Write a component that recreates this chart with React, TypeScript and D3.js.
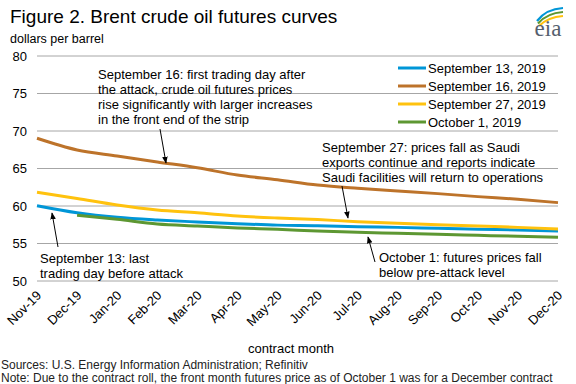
import React from "react";
import * as d3 from "d3";

const months = ["Nov-19","Dec-19","Jan-20","Feb-20","Mar-20","Apr-20","May-20","Jun-20","Jul-20","Aug-20","Sep-20","Oct-20","Nov-20","Dec-20"];
const yTicks = [50, 55, 60, 65, 70, 75, 80];

const sep13 = [60.04, 59.1, 58.49, 58.13, 57.87, 57.64, 57.45, 57.38, 57.24, 57.15, 57.02, 56.9, 56.8, 56.67];
const sep16 = [69.03, 67.47, 66.67, 65.87, 65.1, 64.13, 63.5, 62.8, 62.36, 62.0, 61.65, 61.25, 60.9, 60.45];
const sep27 = [61.83, 61.0, 60.13, 59.47, 59.1, 58.67, 58.4, 58.2, 57.9, 57.7, 57.5, 57.33, 57.15, 56.93];
const oct1 = [null, 58.76, 58.22, 57.6, 57.33, 57.07, 56.89, 56.67, 56.49, 56.36, 56.22, 56.09, 55.96, 55.82];

const seriesNames = ["September 13, 2019", "September 16, 2019", "September 27, 2019", "October 1, 2019"];
const seriesColors = ["#0096d7", "#bd732a", "#ffc20e", "#5d9732"];
const seriesValues = [sep13, sep16, sep27, oct1];

const FONT = "'Liberation Sans', Arial, sans-serif";

export default function App() {
  const W = 576, H = 384;
  const x = d3.scalePoint<string>().domain(months).range([37, 558]);
  const y = d3.scaleLinear().domain([50, 80]).range([281, 56]);
  const line = d3
    .line<number | null>()
    .defined((d) => d !== null)
    .x((_, i) => x(months[i]) as number)
    .y((d) => y(d as number))
    .curve(d3.curveMonotoneX);

  const annotations = [
    { x: 98, y: 74, lines: ["September 16: first trading day after", "the attack, crude oil futures prices", "rise significantly with larger increases", "in the front end of the strip"], a: [160, 129, 166, 163] },
    { x: 322, y: 147, lines: ["September 27: prices fall as Saudi", "exports continue and reports indicate", "Saudi facilities will return to operations"], a: [342, 186, 348, 218] },
    { x: 379, y: 257, lines: ["October 1: futures prices fall", "below pre-attack level"], a: [375, 262, 368, 237] },
    { x: 40, y: 258, lines: ["September 13: last", "trading day before attack"], a: [58, 247, 52, 213] },
  ];

  return (
    <svg width={W} height={H} style={{ position: "absolute", left: 0, top: 0, background: "#fff" }} fontFamily={FONT}>
      <defs>
        <marker id="arr" viewBox="0 0 10 10" refX="9" refY="5" markerWidth="7" markerHeight="7" orient="auto-start-reverse" markerUnits="userSpaceOnUse">
          <path d="M0,1 L10,5 L0,9 z" fill="#000" />
        </marker>
      </defs>
      <rect x={0} y={0} width={W} height={H} fill="#fff" />
      <text x={10} y={23} fontSize={19} fill="#000">Figure 2. Brent crude oil futures curves</text>
      <text x={10} y={43} fontSize={12.5} fill="#000">dollars per barrel</text>

      {/* eia logo */}
      <g>
        <path d="M537,21 Q546,9 563,8" fill="none" stroke="#0096d7" strokeWidth={2.2} />
        <path d="M538,23.5 Q547,13 563,12" fill="none" stroke="#5d9732" strokeWidth={2.2} />
        <path d="M539,26 Q548,17 563,16" fill="none" stroke="#ffc20e" strokeWidth={2.2} />
        <text x={548} y={36} fontSize={23} textAnchor="middle" fill="#55606e" fontFamily="'Liberation Serif', 'DejaVu Serif', serif">eia</text>
      </g>

      {yTicks.map((t) => (
        <g key={t}>
          <line x1={37} x2={558} y1={y(t)} y2={y(t)} stroke="#a6a6a6" strokeWidth={1} />
          <text x={27} y={y(t)} dy="0.35em" textAnchor="end" fontSize={13} fill="#000">{t}</text>
        </g>
      ))}

      {months.map((m) => (
        <text key={m} transform={`translate(${(x(m) as number) + 2},293) rotate(-45)`} dy="0.35em" textAnchor="end" fontSize={13} fill="#000">{m}</text>
      ))}
      <text x={291} y={348} dy="0.35em" textAnchor="middle" fontSize={13} fill="#000">contract month</text>

      {seriesValues.map((vals, i) => (
        <path key={i} d={line(vals) || ""} fill="none" stroke={seriesColors[i]} strokeWidth={3} />
      ))}

      {seriesNames.map((n, i) => (
        <g key={n}>
          <line x1={398} x2={426} y1={68 + i * 18} y2={68 + i * 18} stroke={seriesColors[i]} strokeWidth={3} />
          <text x={428} y={68 + i * 18} dy="0.35em" fontSize={13} fill="#000">{n}</text>
        </g>
      ))}

      {annotations.map((a, i) => (
        <g key={i}>
          {a.lines.map((l, j) => (
            <text key={j} x={a.x} y={a.y + j * 15} dy="0.35em" fontSize={13} fill="#000">{l}</text>
          ))}
          <line x1={a.a[0]} y1={a.a[1]} x2={a.a[2]} y2={a.a[3]} stroke="#000" strokeWidth={1} markerEnd="url(#arr)" />
        </g>
      ))}

      <text x={1} y={364.5} dy="0.35em" fontSize={12} fill="#222">Sources: U.S. Energy Information Administration; Refinitiv</text>
      <text x={1} y={378} dy="0.35em" fontSize={12} fill="#222">Note: Due to the contract roll, the front month futures price as of October 1 was for a December contract</text>
    </svg>
  );
}
